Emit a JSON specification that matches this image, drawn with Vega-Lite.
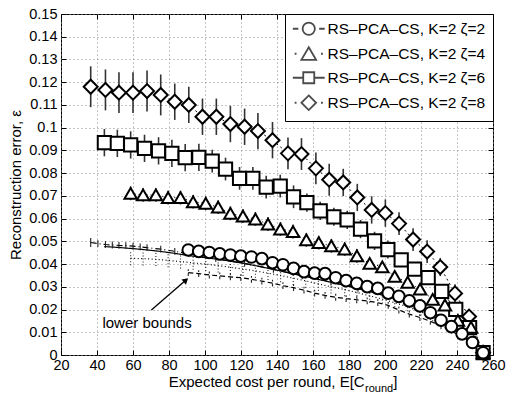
{
  "$schema": "https://vega.github.io/schema/vega-lite/v6.json",
  "width": 432,
  "height": 341,
  "autosize": {"type": "none"},
  "padding": {"left": 61, "top": 14, "right": 16, "bottom": 42},
  "config": {
    "font": "Liberation Sans",
    "view": {"stroke": "black", "strokeWidth": 1},
    "axis": {"labelFont": "Liberation Sans", "titleFont": "Liberation Sans", "labelColor": "black", "titleColor": "black", "tickColor": "black"}
  },
  "datasets": {
    "series": [
      {"s":"z8","x":36.5,"y":0.118,"e":0.009},{"s":"z8","x":44.7,"y":0.1166,"e":0.009},{"s":"z8","x":52.2,"y":0.1154,"e":0.009},{"s":"z8","x":60,"y":0.1154,"e":0.009},{"s":"z8","x":67.8,"y":0.1161,"e":0.009},{"s":"z8","x":75.4,"y":0.1144,"e":0.009},{"s":"z8","x":83.2,"y":0.1114,"e":0.008},{"s":"z8","x":91,"y":0.110,"e":0.008},{"s":"z8","x":98.6,"y":0.1048,"e":0.008},{"s":"z8","x":106.3,"y":0.1048,"e":0.008},{"s":"z8","x":114.1,"y":0.1016,"e":0.008},{"s":"z8","x":122,"y":0.1004,"e":0.008},{"s":"z8","x":129.4,"y":0.0985,"e":0.008},{"s":"z8","x":137.5,"y":0.0945,"e":0.008},{"s":"z8","x":146.1,"y":0.0887,"e":0.007},{"s":"z8","x":153.6,"y":0.0884,"e":0.007},{"s":"z8","x":161.6,"y":0.0821,"e":0.007},{"s":"z8","x":169,"y":0.0771,"e":0.007},{"s":"z8","x":176.8,"y":0.0759,"e":0.006},{"s":"z8","x":184.6,"y":0.0693,"e":0.006},{"s":"z8","x":192.6,"y":0.0638,"e":0.006},{"s":"z8","x":200.2,"y":0.0624,"e":0.006},{"s":"z8","x":207.8,"y":0.0578,"e":0.005},{"s":"z8","x":215.6,"y":0.0508,"e":0.005},{"s":"z8","x":223.4,"y":0.0455,"e":0.005},{"s":"z8","x":230.7,"y":0.0387,"e":0.004},{"s":"z8","x":238.9,"y":0.0271,"e":0.004},{"s":"z8","x":246.7,"y":0.0169,"e":0.003},{"s":"z8","x":254.5,"y":0.001,"e":0.002},
      {"s":"z6","x":44.1,"y":0.0934,"e":0.006},{"s":"z6","x":51.3,"y":0.0931,"e":0.006},{"s":"z6","x":58.7,"y":0.0924,"e":0.006},{"s":"z6","x":66.4,"y":0.0909,"e":0.006},{"s":"z6","x":74.2,"y":0.0898,"e":0.006},{"s":"z6","x":81.6,"y":0.0887,"e":0.006},{"s":"z6","x":89,"y":0.0868,"e":0.006},{"s":"z6","x":96.6,"y":0.0869,"e":0.006},{"s":"z6","x":104,"y":0.0853,"e":0.005},{"s":"z6","x":111.4,"y":0.0818,"e":0.005},{"s":"z6","x":119.2,"y":0.0777,"e":0.005},{"s":"z6","x":126.6,"y":0.0777,"e":0.005},{"s":"z6","x":134,"y":0.0738,"e":0.005},{"s":"z6","x":141.8,"y":0.0743,"e":0.005},{"s":"z6","x":149.2,"y":0.0696,"e":0.005},{"s":"z6","x":156.6,"y":0.067,"e":0.004},{"s":"z6","x":164,"y":0.0634,"e":0.004},{"s":"z6","x":171.6,"y":0.0608,"e":0.004},{"s":"z6","x":179,"y":0.0594,"e":0.004},{"s":"z6","x":186.4,"y":0.0554,"e":0.004},{"s":"z6","x":194.2,"y":0.0502,"e":0.004},{"s":"z6","x":201.6,"y":0.0464,"e":0.004},{"s":"z6","x":209,"y":0.0418,"e":0.003},{"s":"z6","x":216.4,"y":0.0378,"e":0.003},{"s":"z6","x":224,"y":0.034,"e":0.003},{"s":"z6","x":231.5,"y":0.028,"e":0.003},{"s":"z6","x":239.3,"y":0.0201,"e":0.003},{"s":"z6","x":247,"y":0.012,"e":0.002},{"s":"z6","x":254.5,"y":0.001,"e":0.001},
      {"s":"z4","x":58.7,"y":0.0711,"e":0.003},{"s":"z4","x":65.6,"y":0.0704,"e":0.003},{"s":"z4","x":72.7,"y":0.0704,"e":0.003},{"s":"z4","x":79.5,"y":0.0692,"e":0.003},{"s":"z4","x":86.4,"y":0.0692,"e":0.003},{"s":"z4","x":93.4,"y":0.0674,"e":0.003},{"s":"z4","x":100.4,"y":0.0667,"e":0.003},{"s":"z4","x":107.3,"y":0.065,"e":0.003},{"s":"z4","x":114.1,"y":0.0623,"e":0.003},{"s":"z4","x":121.1,"y":0.0611,"e":0.003},{"s":"z4","x":128,"y":0.0598,"e":0.003},{"s":"z4","x":135,"y":0.0576,"e":0.003},{"s":"z4","x":141.9,"y":0.0554,"e":0.003},{"s":"z4","x":148.9,"y":0.0543,"e":0.003},{"s":"z4","x":156.3,"y":0.0506,"e":0.003},{"s":"z4","x":163.2,"y":0.0494,"e":0.003},{"s":"z4","x":170.2,"y":0.048,"e":0.003},{"s":"z4","x":177.6,"y":0.0466,"e":0.003},{"s":"z4","x":184.4,"y":0.0436,"e":0.003},{"s":"z4","x":191.5,"y":0.0403,"e":0.002},{"s":"z4","x":198.5,"y":0.0388,"e":0.002},{"s":"z4","x":205.4,"y":0.0346,"e":0.002},{"s":"z4","x":212.6,"y":0.032,"e":0.002},{"s":"z4","x":219.5,"y":0.029,"e":0.002},{"s":"z4","x":226.5,"y":0.0245,"e":0.002},{"s":"z4","x":233.3,"y":0.022,"e":0.002},{"s":"z4","x":240.5,"y":0.0152,"e":0.002},{"s":"z4","x":247.8,"y":0.0122,"e":0.002},{"s":"z4","x":254.5,"y":0.001,"e":0.001},
      {"s":"z2","x":90.7,"y":0.0462,"e":0.002},{"s":"z2","x":96.5,"y":0.0456,"e":0.002},{"s":"z2","x":102.4,"y":0.0451,"e":0.002},{"s":"z2","x":108.2,"y":0.0445,"e":0.002},{"s":"z2","x":114.1,"y":0.044,"e":0.002},{"s":"z2","x":119.9,"y":0.0435,"e":0.002},{"s":"z2","x":125.8,"y":0.0431,"e":0.002},{"s":"z2","x":131.6,"y":0.0424,"e":0.002},{"s":"z2","x":137.5,"y":0.0406,"e":0.002},{"s":"z2","x":143.3,"y":0.0397,"e":0.002},{"s":"z2","x":149.2,"y":0.0381,"e":0.002},{"s":"z2","x":155,"y":0.0367,"e":0.002},{"s":"z2","x":160.9,"y":0.036,"e":0.002},{"s":"z2","x":166.7,"y":0.0358,"e":0.002},{"s":"z2","x":172.6,"y":0.034,"e":0.002},{"s":"z2","x":178.4,"y":0.0327,"e":0.002},{"s":"z2","x":184.3,"y":0.0315,"e":0.002},{"s":"z2","x":190.1,"y":0.0301,"e":0.002},{"s":"z2","x":196,"y":0.0293,"e":0.002},{"s":"z2","x":201.8,"y":0.0272,"e":0.002},{"s":"z2","x":207.7,"y":0.0258,"e":0.002},{"s":"z2","x":213.5,"y":0.0238,"e":0.002},{"s":"z2","x":219.4,"y":0.0216,"e":0.002},{"s":"z2","x":225.2,"y":0.0186,"e":0.002},{"s":"z2","x":231.1,"y":0.0153,"e":0.002},{"s":"z2","x":236.9,"y":0.0125,"e":0.002},{"s":"z2","x":242.8,"y":0.0093,"e":0.002},{"s":"z2","x":248.6,"y":0.0055,"e":0.001},{"s":"z2","x":254.5,"y":0.001,"e":0.001}
    ],
    "bounds": [
      {"s":"b8","x":36.5,"y":0.0495,"e":0.002},{"s":"b8","x":40.5,"y":0.049,"e":0.0015},{"s":"b8","x":44.7,"y":0.0486,"e":0.0015},{"s":"b8","x":48.5,"y":0.0484,"e":0.0015},{"s":"b8","x":52.2,"y":0.0482,"e":0.0015},{"s":"b8","x":56,"y":0.0481,"e":0.0015},{"s":"b8","x":60,"y":0.0479,"e":0.0015},{"s":"b8","x":64,"y":0.0476,"e":0.0015},{"s":"b8","x":67.8,"y":0.0472,"e":0.0015},{"s":"b8","x":75.4,"y":0.0466,"e":0.0015},{"s":"b8","x":83.2,"y":0.0456,"e":0.0015},{"s":"b8","x":91,"y":0.0446,"e":0.0015},{"s":"b8","x":106,"y":0.0424,"e":0.0015},{"s":"b8","x":122,"y":0.0403,"e":0.0015},{"s":"b8","x":138,"y":0.0377,"e":0.0015},{"s":"b8","x":154,"y":0.0348,"e":0.0015},{"s":"b8","x":170,"y":0.0321,"e":0.0015},{"s":"b8","x":185,"y":0.0293,"e":0.0015},{"s":"b8","x":200,"y":0.0261,"e":0.0015},{"s":"b8","x":215,"y":0.0224,"e":0.0015},{"s":"b8","x":230,"y":0.0172,"e":0.001},{"s":"b8","x":246,"y":0.0068,"e":0.001},{"s":"b8","x":254.5,"y":0.001,"e":0.001},
      {"s":"b6","x":44,"y":0.0477,"e":0},{"s":"b6","x":52,"y":0.0473,"e":0},{"s":"b6","x":60,"y":0.0468,"e":0},{"s":"b6","x":68,"y":0.0462,"e":0},{"s":"b6","x":76,"y":0.0455,"e":0},{"s":"b6","x":84,"y":0.0446,"e":0},{"s":"b6","x":92,"y":0.0436,"e":0},{"s":"b6","x":100,"y":0.0428,"e":0},{"s":"b6","x":110,"y":0.0418,"e":0},{"s":"b6","x":120,"y":0.0405,"e":0},{"s":"b6","x":130,"y":0.039,"e":0},{"s":"b6","x":140,"y":0.0373,"e":0},{"s":"b6","x":150,"y":0.0356,"e":0},{"s":"b6","x":160,"y":0.0338,"e":0},{"s":"b6","x":170,"y":0.032,"e":0},{"s":"b6","x":180,"y":0.0302,"e":0},{"s":"b6","x":190,"y":0.0282,"e":0},{"s":"b6","x":200,"y":0.026,"e":0},{"s":"b6","x":210,"y":0.0237,"e":0},{"s":"b6","x":220,"y":0.021,"e":0},{"s":"b6","x":230,"y":0.0172,"e":0},{"s":"b6","x":238,"y":0.0125,"e":0},{"s":"b6","x":246,"y":0.0068,"e":0},{"s":"b6","x":254.5,"y":0.001,"e":0},
      {"s":"b4","x":58.7,"y":0.0425,"e":0.003},{"s":"b4","x":65.6,"y":0.0424,"e":0.003},{"s":"b4","x":72.7,"y":0.0421,"e":0.003},{"s":"b4","x":79.5,"y":0.0416,"e":0.003},{"s":"b4","x":86.4,"y":0.0411,"e":0.003},{"s":"b4","x":93.4,"y":0.0405,"e":0.003},{"s":"b4","x":100.4,"y":0.04,"e":0.003},{"s":"b4","x":107.3,"y":0.0393,"e":0.003},{"s":"b4","x":114.1,"y":0.0386,"e":0.003},{"s":"b4","x":121.1,"y":0.0378,"e":0.003},{"s":"b4","x":128,"y":0.037,"e":0.003},{"s":"b4","x":135,"y":0.036,"e":0.003},{"s":"b4","x":142,"y":0.035,"e":0.003},{"s":"b4","x":149,"y":0.0338,"e":0.003},{"s":"b4","x":156,"y":0.0326,"e":0.003},{"s":"b4","x":163,"y":0.0313,"e":0.003},{"s":"b4","x":170,"y":0.03,"e":0.003},{"s":"b4","x":177.6,"y":0.0288,"e":0.003},{"s":"b4","x":184.4,"y":0.0275,"e":0.003},{"s":"b4","x":191.5,"y":0.026,"e":0.003},{"s":"b4","x":198.5,"y":0.0246,"e":0.002},{"s":"b4","x":205.4,"y":0.023,"e":0.002},{"s":"b4","x":212.6,"y":0.0212,"e":0.002},{"s":"b4","x":219.5,"y":0.0192,"e":0.002},{"s":"b4","x":226.5,"y":0.0168,"e":0.002},{"s":"b4","x":233.3,"y":0.014,"e":0.002},{"s":"b4","x":240.5,"y":0.0105,"e":0.002},{"s":"b4","x":247.8,"y":0.006,"e":0.001},{"s":"b4","x":254.5,"y":0.001,"e":0.001},
      {"s":"b2","x":90.7,"y":0.0362,"e":0.0015},{"s":"b2","x":96.5,"y":0.0358,"e":0.0015},{"s":"b2","x":102.4,"y":0.0352,"e":0.0015},{"s":"b2","x":108.2,"y":0.0348,"e":0.0015},{"s":"b2","x":114.1,"y":0.0344,"e":0.0015},{"s":"b2","x":119.9,"y":0.034,"e":0.0015},{"s":"b2","x":125.8,"y":0.0333,"e":0.0015},{"s":"b2","x":131.6,"y":0.0325,"e":0.0015},{"s":"b2","x":137.5,"y":0.0316,"e":0.0015},{"s":"b2","x":143.3,"y":0.0305,"e":0.0015},{"s":"b2","x":149.2,"y":0.0296,"e":0.0015},{"s":"b2","x":155,"y":0.0285,"e":0.0015},{"s":"b2","x":160.9,"y":0.0272,"e":0.0015},{"s":"b2","x":166.7,"y":0.0262,"e":0.0015},{"s":"b2","x":172.6,"y":0.0254,"e":0.0015},{"s":"b2","x":178.4,"y":0.0248,"e":0.0015},{"s":"b2","x":184.3,"y":0.0243,"e":0.0015},{"s":"b2","x":190.1,"y":0.0238,"e":0.0015},{"s":"b2","x":196,"y":0.023,"e":0.0015},{"s":"b2","x":201.8,"y":0.0218,"e":0.0015},{"s":"b2","x":207.7,"y":0.0198,"e":0.0015},{"s":"b2","x":213.5,"y":0.018,"e":0.0015},{"s":"b2","x":219.4,"y":0.0165,"e":0.0015},{"s":"b2","x":225.2,"y":0.0148,"e":0.0015},{"s":"b2","x":231.1,"y":0.0128,"e":0.0015},{"s":"b2","x":236.9,"y":0.0105,"e":0.001},{"s":"b2","x":242.8,"y":0.008,"e":0.001},{"s":"b2","x":248.6,"y":0.005,"e":0.001},{"s":"b2","x":254.5,"y":0.001,"e":0.001}
    ],
    "notes": [{"t": "lower bounds"}]
  },
  "resolve": {
    "scale": {"shape": "independent", "strokeDash": "independent", "size": "independent", "strokeWidth": "independent"},
    "axis": {"x": "independent", "y": "independent"},
    "legend": {"shape": "independent"}
  },
  "layer": [
    {
      "data": {"name": "bounds"},
      "mark": {"type": "line", "color": "black"},
      "encoding": {
        "x": {"field": "x", "type": "quantitative", "scale": {"domain": [20, 260], "nice": false}, "axis": null},
        "y": {"field": "y", "type": "quantitative", "scale": {"domain": [0, 0.15], "nice": false, "zero": false}, "axis": null},
        "strokeDash": {"field": "s", "type": "nominal", "scale": {"domain": ["b2", "b4", "b6", "b8"], "range": [[5, 3], [1, 2.5], [1, 0], [6, 3, 1, 3]]}, "legend": null},
        "strokeWidth": {"field": "s", "type": "nominal", "scale": {"domain": ["b2", "b4", "b6", "b8"], "range": [1.2, 1.2, 2.4, 1.2]}, "legend": null}
      }
    },
    {
      "data": {"name": "bounds"},
      "transform": [{"filter": "datum.s === 'b4'"}],
      "mark": {"type": "errorbar", "color": "#222", "thickness": 1.1, "rule": {"strokeDash": [1, 2]}},
      "encoding": {
        "x": {"field": "x", "type": "quantitative", "axis": null},
        "y": {"field": "y", "type": "quantitative", "axis": null},
        "yError": {"field": "e"}
      }
    },
    {
      "data": {"name": "bounds"},
      "transform": [{"filter": "datum.s === 'b2'"}],
      "mark": {"type": "errorbar", "color": "#222", "thickness": 1.1, "rule": {"strokeDash": [3, 2]}},
      "encoding": {
        "x": {"field": "x", "type": "quantitative", "axis": null},
        "y": {"field": "y", "type": "quantitative", "axis": null},
        "yError": {"field": "e"}
      }
    },
    {
      "data": {"name": "bounds"},
      "transform": [{"filter": "datum.s === 'b8'"}],
      "mark": {"type": "errorbar", "color": "#222", "thickness": 1.1},
      "encoding": {
        "x": {"field": "x", "type": "quantitative", "axis": null},
        "y": {"field": "y", "type": "quantitative", "axis": null},
        "yError": {"field": "e"}
      }
    },
    {
      "data": {"name": "series"},
      "mark": {"type": "errorbar", "color": "#333", "thickness": 1.6},
      "encoding": {
        "x": {"field": "x", "type": "quantitative", "axis": null},
        "y": {"field": "y", "type": "quantitative", "axis": null},
        "yError": {"field": "e"}
      }
    },
    {
      "data": {"name": "series"},
      "mark": {"type": "line", "color": "black", "strokeWidth": 1},
      "encoding": {
        "x": {"field": "x", "type": "quantitative", "axis": {"orient": "top", "values": [20,40,60,80,100,120,140,160,180,200,220,240,260], "labels": false, "grid": false, "domain": false, "tickSize": -5, "title": null}},
        "y": {"field": "y", "type": "quantitative", "axis": {"orient": "right", "values": [0,0.01,0.02,0.03,0.04,0.05,0.06,0.07,0.08,0.09,0.1,0.11,0.12,0.13,0.14,0.15], "labels": false, "grid": false, "domain": false, "tickSize": -5, "title": null}},
        "strokeDash": {"field": "s", "type": "nominal", "scale": {"domain": ["z2", "z4", "z6", "z8"], "range": [[6, 3, 1, 3], [1, 3], [1, 0], [2, 3]]}, "legend": null}
      }
    },
    {
      "data": {"name": "series"},
      "mark": {"type": "point", "filled": false, "fill": "white", "fillOpacity": 1, "stroke": "black", "strokeWidth": 2, "opacity": 1},
      "encoding": {
        "x": {"field": "x", "type": "quantitative", "axis": {"orient": "bottom", "values": [20,40,60,80,100,120,140,160,180,200,220,240,260], "grid": true, "gridDash": [1, 3], "gridColor": "#8a8a8a", "gridOpacity": 1, "domain": false, "tickSize": -5, "labelPadding": 8, "labelFontSize": 14.5, "labelFlush": false, "title": null}},
        "y": {"field": "y", "type": "quantitative", "axis": {"orient": "left", "values": [0,0.01,0.02,0.03,0.04,0.05,0.06,0.07,0.08,0.09,0.1,0.11,0.12,0.13,0.14,0.15], "format": "~g", "grid": true, "gridDash": [1, 3], "gridColor": "#8a8a8a", "gridOpacity": 1, "domain": false, "tickSize": -5, "labelPadding": 9, "labelFontSize": 14.5, "title": "Reconstruction error, ε", "titleFontSize": 15, "titleFontWeight": "normal", "titlePadding": 5}},
        "shape": {"field": "s", "type": "nominal", "scale": {"domain": ["z2", "z4", "z6", "z8"], "range": ["circle", "triangle-up", "square", "diamond"]}, "legend": null},
        "size": {"field": "s", "type": "ordinal", "scale": {"domain": ["z2", "z4", "z6", "z8"], "range": [135, 195, 125, 230]}, "legend": null}
      }
    },
    {
      "data": {"values": []},
      "mark": {"type": "point", "filled": false, "color": "black", "strokeWidth": 1.8},
      "encoding": {
        "shape": {
          "field": "label", "type": "nominal",
          "scale": {
            "domain": ["RS–PCA–CS, K=2 ζ=2", "RS–PCA–CS, K=2 ζ=4", "RS–PCA–CS, K=2 ζ=6", "RS–PCA–CS, K=2 ζ=8"],
            "range": [
              "M-2.6,0H-1.7M1.7,0H2.6M1,0A1,1,0,1,1,-1,0A1,1,0,1,1,1,0Z",
              "M-2.3,0H-2M2,0H2.3M0,-1.05L1.2,1L-1.2,1Z",
              "M-2.6,0H-0.9M0.9,0H2.6M-0.9,-0.9H0.9V0.9H-0.9Z",
              "M-2.3,0H-2M2,0H2.3M0,-1.2L1.2,0L0,1.2L-1.2,0Z"
            ]
          },
          "legend": {
            "title": null, "orient": "top-right", "offset": 0,
            "fillColor": "white", "strokeColor": "black", "padding": 7,
            "symbolSize": 150, "symbolStrokeColor": "black", "symbolFillColor": "white", "symbolStrokeWidth": 1.8,
            "symbolOffset": 9, "labelOffset": 11, "rowPadding": 4,
            "labelFont": "Liberation Sans", "labelFontSize": 15.5, "labelColor": "black", "labelLimit": 300
          }
        }
      }
    },
    {
      "data": {"name": "notes"},
      "mark": {"type": "rule", "color": "black", "strokeWidth": 1.3},
      "encoding": {
        "x": {"datum": 70.2, "type": "quantitative", "axis": null},
        "y": {"datum": 0.0198, "type": "quantitative", "axis": null},
        "x2": {"datum": 89.6},
        "y2": {"datum": 0.0331}
      }
    },
    {
      "data": {"name": "notes"},
      "mark": {"type": "point", "shape": "triangle-up", "filled": true, "color": "black", "size": 45, "angle": 49, "opacity": 1},
      "encoding": {
        "x": {"datum": 89.4, "type": "quantitative", "axis": null},
        "y": {"datum": 0.0329, "type": "quantitative", "axis": null}
      }
    },
    {
      "data": {"name": "notes"},
      "mark": {"type": "text", "fontSize": 15, "color": "black", "align": "center", "baseline": "middle"},
      "encoding": {
        "x": {"datum": 67.8, "type": "quantitative", "axis": null},
        "y": {"datum": 0.0141, "type": "quantitative", "axis": null},
        "text": {"field": "t"}
      }
    },
    {
      "data": {"values": [{"t": "Expected cost per round, E[C"}]},
      "mark": {"type": "text", "fontSize": 15, "color": "black", "align": "right", "baseline": "alphabetic", "dy": 32},
      "encoding": {
        "x": {"datum": 188.7, "type": "quantitative", "axis": null},
        "y": {"datum": 0, "type": "quantitative", "axis": null},
        "text": {"field": "t"}
      }
    },
    {
      "data": {"values": [{"t": "round"}]},
      "mark": {"type": "text", "fontSize": 11, "color": "black", "align": "left", "baseline": "alphabetic", "dy": 37},
      "encoding": {
        "x": {"datum": 188.9, "type": "quantitative", "axis": null},
        "y": {"datum": 0, "type": "quantitative", "axis": null},
        "text": {"field": "t"}
      }
    },
    {
      "data": {"values": [{"t": "]"}]},
      "mark": {"type": "text", "fontSize": 15, "color": "black", "align": "left", "baseline": "alphabetic", "dy": 32},
      "encoding": {
        "x": {"datum": 204.6, "type": "quantitative", "axis": null},
        "y": {"datum": 0, "type": "quantitative", "axis": null},
        "text": {"field": "t"}
      }
    }
  ]
}
